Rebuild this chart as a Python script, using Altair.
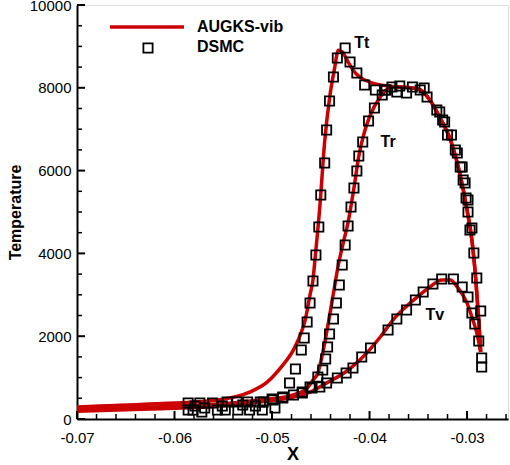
import altair as alt
import pandas as pd

# ---------------- AUGKS-vib lines ----------------
tt_line_x = [-0.0700, -0.0625, -0.0556, -0.0523, -0.0505, -0.0489, -0.0478, -0.0471, -0.0466, -0.0461,
             -0.0458, -0.0456, -0.0451, -0.0446, -0.0441, -0.0436, -0.0432, -0.0428, -0.0423, -0.0417,
             -0.0410, -0.0400, -0.0389, -0.0379, -0.0369, -0.0358, -0.0348, -0.0338, -0.0328, -0.0317,
             -0.0307, -0.0300, -0.0295, -0.0291, -0.0288, -0.0286]
tt_line_y = [290, 360, 460, 650, 890, 1300, 1670, 2030, 2390, 3000,
             3360, 3840, 5120, 6700, 7750, 8450, 8910, 8870, 8670, 8430,
             8260, 8140, 8070, 8040, 8020, 8000, 7950, 7700, 7290, 6740,
             5890, 5050, 4320, 3360, 2390, 1620]

tr_line_x = [-0.0700, -0.0625, -0.0556, -0.0512, -0.0482, -0.0466, -0.0458, -0.0453, -0.0448, -0.0443,
             -0.0437, -0.0432, -0.0427, -0.0422, -0.0416, -0.0411, -0.0405, -0.0400, -0.0389, -0.0379,
             -0.0369, -0.0358, -0.0348, -0.0338, -0.0328, -0.0317, -0.0307, -0.0300, -0.0295, -0.0291,
             -0.0288, -0.0286]
tr_line_y = [240, 290, 360, 460, 560, 700, 940, 1110, 1600, 2220,
             3040, 3720, 4250, 4750, 5580, 6350, 6950, 7300, 7780, 8000,
             8020, 8000, 7950, 7700, 7290, 6740, 5890, 5050, 4320, 3360,
             2390, 1620]

tv_line_x = [-0.0700, -0.0625, -0.0556, -0.0512, -0.0478, -0.0461, -0.0444, -0.0425, -0.0410, -0.0400,
             -0.0389, -0.0376, -0.0364, -0.0351, -0.0338, -0.0326, -0.0317, -0.0310, -0.0300, -0.0294,
             -0.0290, -0.0286]
tv_line_y = [190, 240, 310, 410, 530, 650, 870, 1130, 1425, 1670,
             1980, 2390, 2680, 2950, 3190, 3360, 3360, 3190, 2800, 2390,
             2080, 1620]

# ---------------- DSMC squares ----------------
tt_dsmc_x = [-0.0586, -0.0574, -0.0561, -0.0546, -0.0536, -0.0525, -0.0512, -0.0500, -0.0489, -0.0482,
             -0.0476, -0.0470, -0.0467, -0.0464, -0.0461, -0.0458, -0.0455, -0.0452, -0.0450, -0.0446,
             -0.0444, -0.0441, -0.0437, -0.0433, -0.0425, -0.0420, -0.0413, -0.0405, -0.0394, -0.0384,
             -0.0377, -0.0369, -0.0356, -0.0344, -0.0331, -0.0323, -0.0316, -0.0310, -0.0305, -0.0302,
             -0.0299, -0.0297, -0.0293, -0.0290, -0.0286, -0.0285]
tt_dsmc_y = [386, 386, 386, 411, 411, 411, 411, 483, 531, 869,
             1208, 1666, 1956, 2343, 2801, 3333, 3961, 4637, 5410, 6182,
             6979, 7680, 8259, 8718, 8960, 8622, 8356, 8066, 7945, 7945,
             8018, 8042, 8018, 7994, 7462, 7173, 6859, 6424, 6086, 5699,
             5289, 4564, 4009, 3405, 2608, 1473]

tr_dsmc_x = [-0.0586, -0.0581, -0.0572, -0.0556, -0.0548, -0.0535, -0.0523, -0.0510, -0.0497,
             -0.0469, -0.0461, -0.0453, -0.0448, -0.0445, -0.0443, -0.0441, -0.0437, -0.0434, -0.0431,
             -0.0428, -0.0425, -0.0422, -0.0419, -0.0416, -0.0413, -0.0411, -0.0407, -0.0401, -0.0395,
             -0.0387, -0.0383, -0.0372, -0.0362, -0.0348, -0.0341, -0.0328, -0.0325, -0.0320, -0.0312,
             -0.0307, -0.0304, -0.0301, -0.0299, -0.0295, -0.0288, -0.0285]
tr_dsmc_y = [217, 217, 169, 217, 217, 217, 217, 217, 266,
             628, 773, 1014, 1183, 1449, 1739, 2053, 2415, 2801, 3236,
             3719, 4202, 4661, 5120, 5579, 5989, 6352, 6690, 7197, 7511,
             7825, 7945, 7897, 7873, 7945, 7776, 7414, 7221, 6859, 6496,
             6086, 5772, 5337, 4999, 4613, 1884, 1256]

tv_dsmc_x = [-0.0579, -0.0569, -0.0551, -0.0530, -0.0517, -0.0509, -0.0499, -0.0489, -0.0478,
             -0.0469, -0.0459, -0.0451, -0.0444, -0.0433, -0.0424, -0.0417, -0.0408, -0.0399, -0.0381,
             -0.0372, -0.0362, -0.0353, -0.0345, -0.0335, -0.0326, -0.0314, -0.0305, -0.0299, -0.0295,
             -0.0292]
tv_dsmc_y = [314, 266, 314, 338, 314, 411, 459, 507, 580,
             652, 749, 773, 869, 990, 1111, 1232, 1497, 1715, 2149,
             2415, 2632, 2874, 3067, 3260, 3381, 3381, 3188, 2946, 2560,
             2294]

# ---------------- axes ----------------
x_major = [-0.07, -0.06, -0.05, -0.04, -0.03]
x_minor = [-0.068, -0.066, -0.064, -0.062, -0.058, -0.056, -0.054, -0.052, -0.048, -0.046,
           -0.044, -0.042, -0.038, -0.036, -0.034, -0.032, -0.028, -0.026]
y_major = [0, 2000, 4000, 6000, 8000, 10000]
y_minor = [500, 1000, 1500, 2500, 3000, 3500, 4500, 5000, 5500, 6500, 7000, 7500, 8500, 9000, 9500]

curve_labels = ["Tt", "Tr", "Tv"]
curve_label_x = [-0.0408, -0.0381, -0.0333]
curve_label_y = [9080, 6690, 2510]

legend_labels = ["AUGKS-vib", "DSMC"]

W, H = 431, 414
RED = "#cc0000"
FONT = "Liberation Sans"

lines = pd.concat([
    pd.DataFrame({"x": tt_line_x, "y": tt_line_y, "s": "Tt"}),
    pd.DataFrame({"x": tr_line_x, "y": tr_line_y, "s": "Tr"}),
    pd.DataFrame({"x": tv_line_x, "y": tv_line_y, "s": "Tv"}),
])
dsmc = pd.concat([
    pd.DataFrame({"x": tt_dsmc_x, "y": tt_dsmc_y, "s": "Tt"}),
    pd.DataFrame({"x": tr_dsmc_x, "y": tr_dsmc_y, "s": "Tr"}),
    pd.DataFrame({"x": tv_dsmc_x, "y": tv_dsmc_y, "s": "Tv"}),
])

xscale = alt.Scale(domain=[-0.07, -0.0258], nice=False, zero=False)
yscale = alt.Scale(domain=[0, 10000], nice=False)

xaxis = alt.Axis(values=x_major, ticks=False, grid=False, title="X",
                 labelExpr="(datum.value < 0 ? '-' : '') + format(abs(datum.value), '.2f')",
                 labelFontSize=15, labelPadding=11, titleFontSize=18, titleFontWeight="bold",
                 titlePadding=0, domainWidth=2, domainColor="black", labelColor="black",
                 titleColor="black", labelFont=FONT, titleFont=FONT, labelFlush=False)
yaxis = alt.Axis(values=y_major, ticks=False, grid=False, title="Temperature", format="d",
                 labelFontSize=15, labelPadding=6, titleFontSize=16, titleFontWeight="bold",
                 titlePadding=6, domainWidth=2, domainColor="black", labelColor="black",
                 titleColor="black", labelFont=FONT, titleFont=FONT, labelFlush=False)

line_layer = alt.Chart(lines).mark_line(color=RED, strokeWidth=3.5, interpolate="monotone").encode(
    x=alt.X("x:Q", scale=xscale, axis=xaxis),
    y=alt.Y("y:Q", scale=yscale, axis=yaxis),
    detail="s:N",
)

sq_layer = alt.Chart(dsmc).mark_point(shape="square", filled=False, color="black",
                                      strokeWidth=1.8, size=85, opacity=1).encode(
    x=alt.X("x:Q", scale=xscale),
    y=alt.Y("y:Q", scale=yscale),
)

lbl_df = pd.DataFrame({"t": curve_labels, "x": curve_label_x, "y": curve_label_y})
lbl_layer = alt.Chart(lbl_df).mark_text(font=FONT, fontSize=16, fontWeight="bold",
                                        color="black", align="center", baseline="middle").encode(
    x=alt.X("x:Q", scale=xscale), y=alt.Y("y:Q", scale=yscale), text="t:N")

# inward ticks
xmaj = alt.Chart(pd.DataFrame({"v": x_major})).mark_rule(color="black", strokeWidth=2).encode(
    x=alt.X("v:Q", scale=xscale), y=alt.value(H), y2=alt.value(H - 8))
xmin = alt.Chart(pd.DataFrame({"v": x_minor})).mark_rule(color="black", strokeWidth=1.5).encode(
    x=alt.X("v:Q", scale=xscale), y=alt.value(H), y2=alt.value(H - 5))
ymaj = alt.Chart(pd.DataFrame({"v": y_major})).mark_rule(color="black", strokeWidth=2).encode(
    y=alt.Y("v:Q", scale=yscale), x=alt.value(0), x2=alt.value(8))
ymin = alt.Chart(pd.DataFrame({"v": y_minor})).mark_rule(color="black", strokeWidth=1.5).encode(
    y=alt.Y("v:Q", scale=yscale), x=alt.value(0), x2=alt.value(5))

# legend
leg_line = alt.Chart(pd.DataFrame({"l": [legend_labels[0]]})).mark_rule(color=RED, strokeWidth=3.5).encode(
    x=alt.value(33), x2=alt.value(107), y=alt.value(22))
leg_sq = alt.Chart(pd.DataFrame({"l": [legend_labels[1]]})).mark_point(
    shape="square", filled=False, color="black", strokeWidth=1.8, size=85, opacity=1).encode(
    x=alt.value(71), y=alt.value(43))
leg_txt = alt.Chart(pd.DataFrame({"l": legend_labels, "py": [22, 42]})).mark_text(
    font=FONT, fontSize=16, fontWeight="bold", color="black", align="left", baseline="middle").encode(
    x=alt.value(120), y=alt.Y("py:Q", scale=None), text="l:N")

chart = alt.layer(line_layer, sq_layer, lbl_layer, xmaj, xmin, ymaj, ymin,
                  leg_line, leg_sq, leg_txt).properties(
    width=W, height=H,
    autosize=alt.AutoSizeParams(type="none"),
    padding={"left": 77, "top": 5, "right": 2, "bottom": 46},
).configure_view(stroke=None).configure(background="white")

chart.save("out.html", embed_options={"renderer": "svg", "actions": False})
